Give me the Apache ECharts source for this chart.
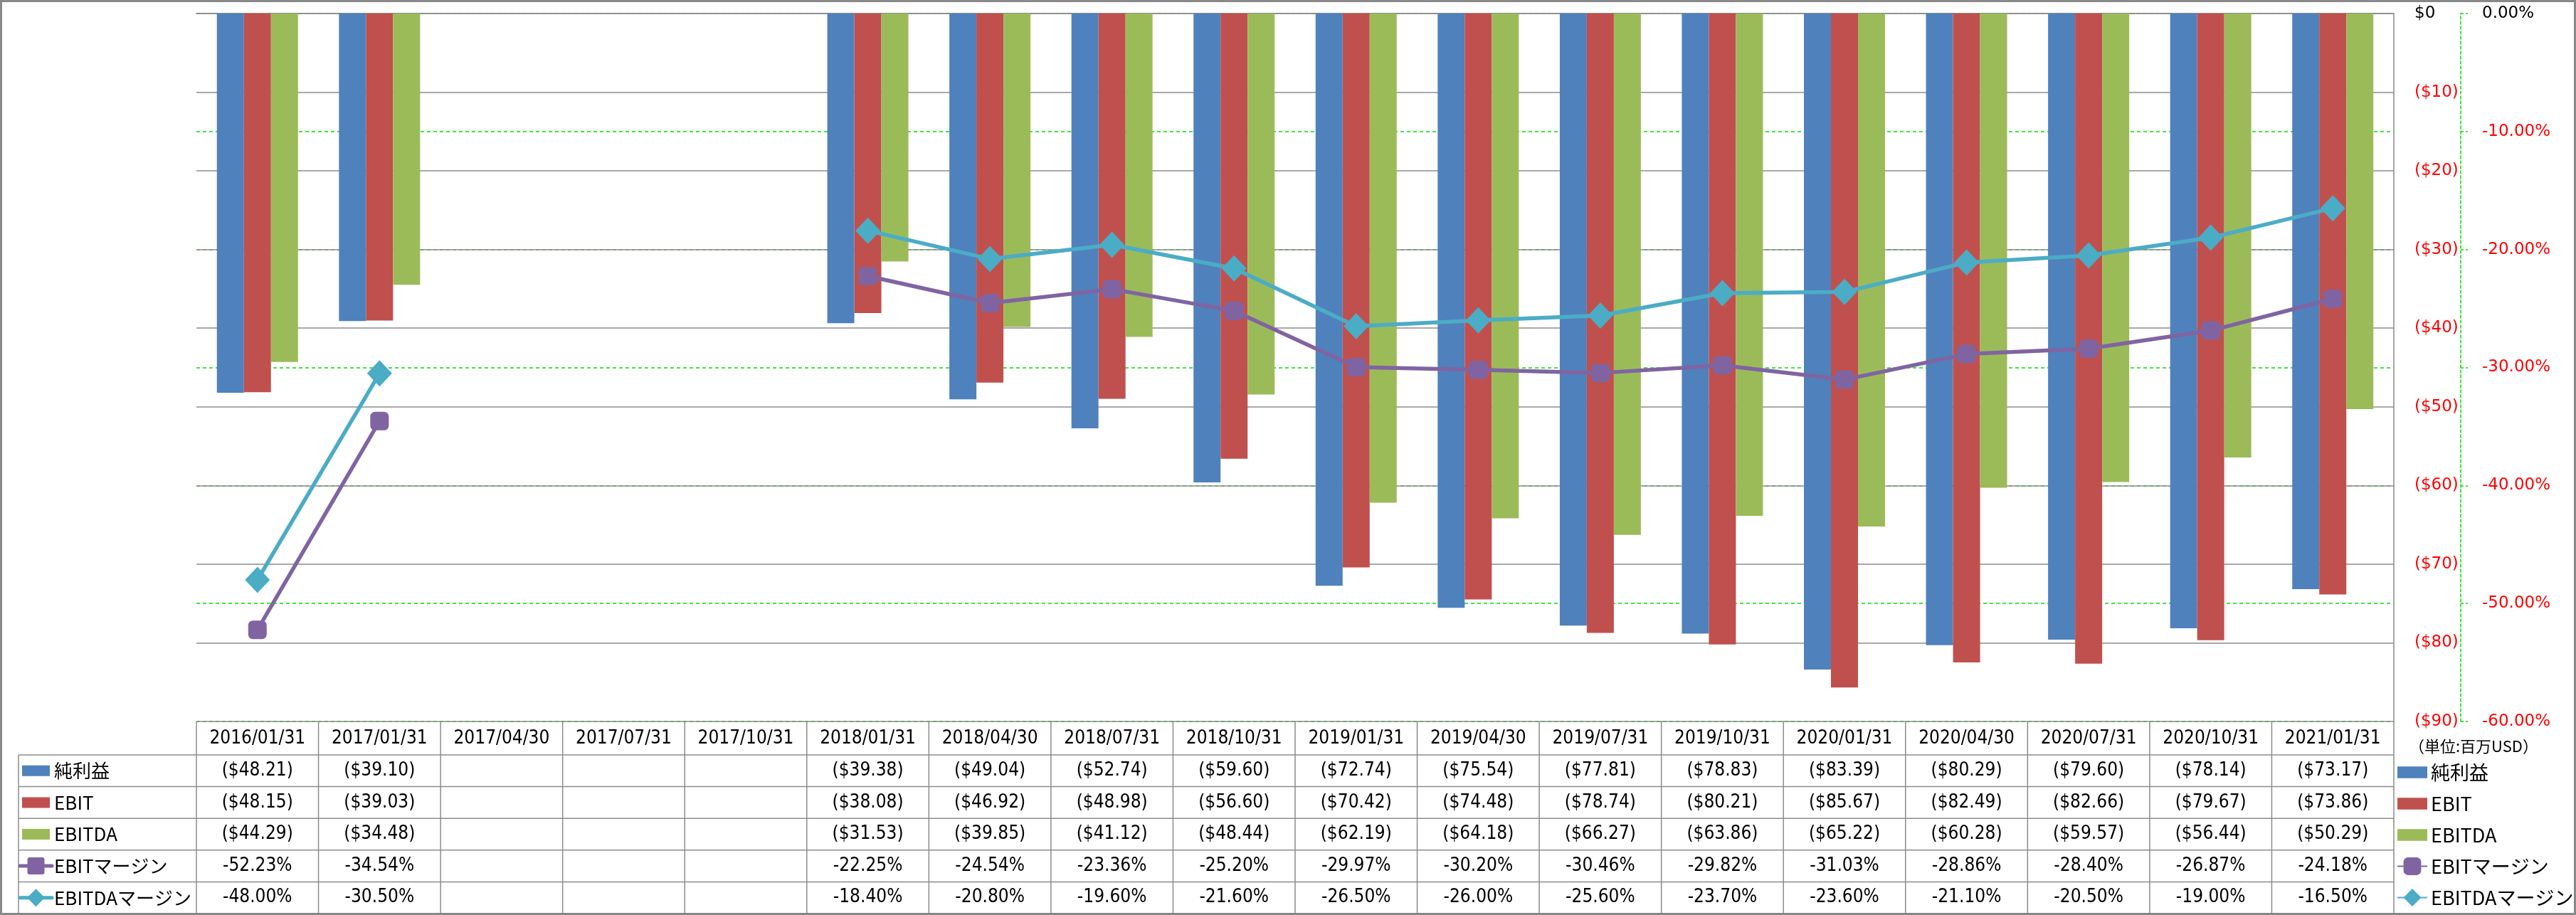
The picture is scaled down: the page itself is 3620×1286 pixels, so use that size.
<!DOCTYPE html>
<html>
<head>
<meta charset="utf-8">
<script src="https://cdn.jsdelivr.net/npm/echarts@6/dist/echarts.min.js"></script>
<style>
html,body{margin:0;padding:0;background:#fff;}
#c{width:3620px;height:1286px;}
</style>
</head>
<body>
<div id="c"></div>
<script>
const categories = ['2016/01/31','2017/01/31','2017/04/30','2017/07/31','2017/10/31','2018/01/31','2018/04/30','2018/07/31','2018/10/31','2019/01/31','2019/04/30','2019/07/31','2019/10/31','2020/01/31','2020/04/30','2020/07/31','2020/10/31','2021/01/31'];
const netIncome = [-48.21,-39.10,null,null,null,-39.38,-49.04,-52.74,-59.60,-72.74,-75.54,-77.81,-78.83,-83.39,-80.29,-79.60,-78.14,-73.17];
const ebit = [-48.15,-39.03,null,null,null,-38.08,-46.92,-48.98,-56.60,-70.42,-74.48,-78.74,-80.21,-85.67,-82.49,-82.66,-79.67,-73.86];
const ebitda = [-44.29,-34.48,null,null,null,-31.53,-39.85,-41.12,-48.44,-62.19,-64.18,-66.27,-63.86,-65.22,-60.28,-59.57,-56.44,-50.29];
const ebitMargin = [-52.23,-34.54,null,null,null,-22.25,-24.54,-23.36,-25.20,-29.97,-30.20,-30.46,-29.82,-31.03,-28.86,-28.40,-26.87,-24.18];
const ebitdaMargin = [-48.00,-30.50,null,null,null,-18.40,-20.80,-19.60,-21.60,-26.50,-26.00,-25.60,-23.70,-23.60,-21.10,-20.50,-19.00,-16.50];
const seriesNames = ['純利益','EBIT','EBITDA','EBITマージン','EBITDAマージン'];
const dollarTickLabels = ['$0','($10)','($20)','($30)','($40)','($50)','($60)','($70)','($80)','($90)'];
const pctTickLabels = ['0.00%','-10.00%','-20.00%','-30.00%','-40.00%','-50.00%','-60.00%'];
const unitNote = '（単位:百万USD）';

const COLORS = ['#4F81BD','#C0504D','#9BBB59','#8064A2','#4BACC6'];
const AXIS_FONT = '"DejaVu Sans", sans-serif';
const TABLE_FONT = '"DejaVu Sans Condensed", "Liberation Sans Narrow", "Noto Sans CJK JP", sans-serif';
const LEG_FONT = '"Noto Sans CJK JP", "Noto Sans", sans-serif';
const W = 3620, H = 1286;
const G = {left: 276, right: 256, top: 19, bottom: 272};
const GRID_BOTTOM_Y = H - G.bottom;   // 1014
const GRID_RIGHT_X = W - G.right;     // 3364

const chart = echarts.init(document.getElementById('c'), null, {renderer: 'canvas'});

const barSeries = (name, data, color) => ({
  name, type: 'bar', data, yAxisIndex: 0, barWidth: 38, barGap: '0%',
  itemStyle: {color}, z: 3
});

const option = {
  animation: false,
  backgroundColor: '#fff',
  grid: {left: G.left, right: G.right, top: G.top, bottom: G.bottom, containLabel: false},
  xAxis: {
    type: 'category', data: categories, position: 'bottom',
    axisLine: {show: true, lineStyle: {color: '#8c8c8c', width: 1.5}},
    axisTick: {show: false},
    axisLabel: {fontFamily: TABLE_FONT, fontSize: 26, color: '#000', margin: 24, verticalAlign: 'middle', interval: 0},
    splitLine: {show: false}
  },
  yAxis: [
    {
      type: 'value', position: 'right', min: -90, max: 0, interval: 10, z: 1,
      axisLine: {show: true, lineStyle: {color: '#8c8c8c', width: 1.5}},
      axisTick: {show: false},
      axisLabel: {
        margin: 29, fontFamily: AXIS_FONT, fontSize: 23, align: 'left',
        formatter: v => dollarTickLabels[Math.round(-v / 10)],
        color: v => (v < 0 ? '#FF0000' : '#000')
      },
      splitLine: {show: true, lineStyle: {color: '#8c8c8c', width: 1.5}}
    },
    {
      type: 'value', position: 'right', offset: 94, min: -60, max: 0, interval: 10, z: 0,
      axisLine: {show: true, lineStyle: {color: '#00E000', width: 1.5, type: [4, 3]}},
      axisTick: {show: true, length: 10, lineStyle: {color: '#00E000', width: 1.5, type: [4, 3]}},
      axisLabel: {
        margin: 30, fontFamily: AXIS_FONT, fontSize: 23, align: 'left',
        formatter: v => pctTickLabels[Math.round(-v / 10)],
        color: v => (v < 0 ? '#FF0000' : '#000')
      },
      splitLine: {show: true, lineStyle: {color: '#00E000', width: 1.5, type: [5, 4]}}
    }
  ],
  legend: {
    orient: 'vertical', left: 3368, top: 1070, height: 216, padding: 0,
    itemWidth: 42, itemHeight: 31, itemGap: 13,
    itemTextGap: 5,
    textStyle: {fontFamily: LEG_FONT, fontSize: 27, color: '#000', lineHeight: 31},
    data: [
      {name: seriesNames[0], icon: 'path://M0,0H38V15H0Z'},
      {name: seriesNames[1], icon: 'path://M0,0H38V15H0Z'},
      {name: seriesNames[2], icon: 'path://M0,0H38V15H0Z'},
      {name: seriesNames[3]},
      {name: seriesNames[4]}
    ]
  },
  series: [
    barSeries(seriesNames[0], netIncome, COLORS[0]),
    barSeries(seriesNames[1], ebit, COLORS[1]),
    barSeries(seriesNames[2], ebitda, COLORS[2]),
    {
      name: seriesNames[3], type: 'line', yAxisIndex: 1, data: ebitMargin, connectNulls: false,
      symbol: 'roundRect', symbolSize: 26, showAllSymbol: true,
      lineStyle: {color: COLORS[3], width: 5.5}, itemStyle: {color: COLORS[3]}, z: 5
    },
    {
      name: seriesNames[4], type: 'line', yAxisIndex: 1, data: ebitdaMargin, connectNulls: false,
      symbol: 'diamond', symbolSize: [35, 37], showAllSymbol: true,
      lineStyle: {color: COLORS[4], width: 5.5}, itemStyle: {color: COLORS[4]}, z: 6
    }
  ]
};
chart.setOption(option);

// ---- data table under the chart, aligned with the category axis ----
const catX = categories.map(c => chart.convertToPixel({xAxisIndex: 0}, c));
const band = catX[1] - catX[0];
const tableLeft = 26;
const headerBottom = GRID_BOTTOM_Y + 47;
const rowH = 44.6;
const rowCenter = i => headerBottom + rowH * (i + 0.5);
const tableBottom = headerBottom + rowH * 5;
const LINE = {stroke: '#8c8c8c', lineWidth: 1.5};
const g = [];

// outer border
g.push({type: 'rect', shape: {x: 1.5, y: 1.5, width: W - 3, height: H - 3}, style: {fill: null, stroke: '#888', lineWidth: 3}, z: 100});
// horizontal table lines
for (let r = 0; r <= 5; r++) {
  const y = headerBottom + rowH * r;
  g.push({type: 'line', shape: {x1: tableLeft, y1: y, x2: GRID_RIGHT_X, y2: y}, style: LINE, z: 50});
}
// vertical lines
for (let i = 0; i <= categories.length; i++) {
  const x = catX[0] - band / 2 + band * i;
  g.push({type: 'line', shape: {x1: x, y1: GRID_BOTTOM_Y, x2: x, y2: tableBottom}, style: LINE, z: 50});
}
g.push({type: 'line', shape: {x1: tableLeft, y1: headerBottom, x2: tableLeft, y2: tableBottom}, style: LINE, z: 50});

// row labels with keys
const rows = [netIncome, ebit, ebitda, ebitMargin, ebitdaMargin];
rows.forEach((arr, r) => {
  const cy = rowCenter(r);
  if (r < 3) {
    g.push({type: 'rect', shape: {x: 31, y: cy - 7.5, width: 39, height: 15}, style: {fill: COLORS[r]}, z: 60});
  } else {
    g.push({type: 'line', shape: {x1: 28, y1: cy, x2: 73, y2: cy}, style: {stroke: COLORS[r], lineWidth: 5, lineCap: 'round'}, z: 60});
    if (r === 3) {
      g.push({type: 'rect', shape: {x: 38.5, y: cy - 12, width: 24, height: 24, r: 3}, style: {fill: COLORS[r]}, z: 61});
    } else {
      g.push({type: 'polygon', shape: {points: [[50.5, cy - 12.5], [63, cy], [50.5, cy + 12.5], [38, cy]]}, style: {fill: COLORS[r]}, z: 61});
    }
  }
  g.push({type: 'text', style: {text: seriesNames[r], x: 76, y: cy, verticalAlign: 'middle', align: 'left', fontFamily: LEG_FONT, fontSize: 26, fill: '#000'}, z: 60});
  arr.forEach((v, i) => {
    if (v === null) return;
    const txt = r < 3 ? '($' + Math.abs(v).toFixed(2) + ')' : v.toFixed(2) + '%';
    g.push({type: 'text', style: {text: txt, x: catX[i], y: cy, align: 'center', verticalAlign: 'middle', fontFamily: TABLE_FONT, fontSize: 26, fill: '#000'}, z: 60});
  });
});

// unit note
g.push({type: 'text', style: {text: unitNote, x: 3385, y: GRID_BOTTOM_Y + 35, align: 'left', verticalAlign: 'middle', fontFamily: LEG_FONT, fontSize: 22, fill: '#000'}, z: 60});

chart.setOption({graphic: g});
</script>
</body>
</html>
